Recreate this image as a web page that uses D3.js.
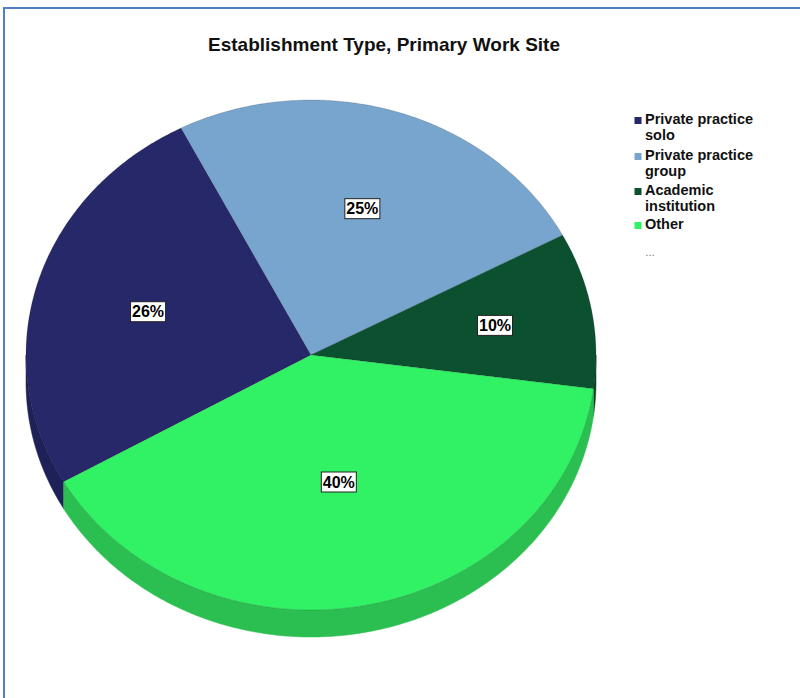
<!DOCTYPE html>
<html>
<head>
<meta charset="utf-8">
<script src="https://cdn.jsdelivr.net/npm/d3@7"></script>
<style>
  html, body { margin: 0; padding: 0; background: #fff; }
  svg { display: block; font-family: Arial, "Liberation Sans", sans-serif; }
</style>
</head>
<body>
<svg id="chart" width="800" height="698"></svg>
<script>
// Establishment type shares (percent of respondents)
const categories = ["Private practice solo", "Private practice group", "Academic institution", "Other"];
const legendLines = [["Private practice", "solo"], ["Private practice", "group"], ["Academic", "institution"], ["Other"]];
const percents = [26, 25, 10, 40];
const topColors = ["#26286a", "#77a5cd", "#0b5130", "#31f264"];
const sideColors = ["#1e2058", "#5f86a8", "#083f24", "#2bbf51"];
const titleText = "Establishment Type, Primary Work Site";

const svg = d3.select("#chart");
const W = 800, H = 698;

// frame
svg.append("rect")
  .attr("x", 4).attr("y", 8).attr("width", W + 10).attr("height", H + 10)
  .attr("fill", "none").attr("stroke", "#4f81c2").attr("stroke-width", 2);

svg.append("text")
  .attr("x", 384).attr("y", 51)
  .attr("text-anchor", "middle")
  .attr("font-size", 19).attr("font-weight", "bold")
  .attr("fill", "#111")
  .text(titleText);

// tilted pie geometry
const cx = 311, cy = 355, rx = 285, ry = 255, depth = 27;
const startDeg = -119.8;
const start = startDeg * Math.PI / 180;

const pie = d3.pie().sort(null).value(d => d)
  .startAngle(start).endAngle(start + 2 * Math.PI);
const arcs = pie(percents);
const total = d3.sum(percents);

const pt = (a, r = 1, dy = 0) => [cx + rx * r * Math.sin(a), cy - ry * r * Math.cos(a) + dy];
const sample = (a0, a1) => {
  const n = Math.max(2, Math.ceil(Math.abs(a1 - a0) / 0.01));
  return d3.range(n + 1).map(i => a0 + (a1 - a0) * i / n);
};
const line = d3.line();

// side walls: visible where the rim faces the viewer (cos(a) < 0)
const g = svg.append("g");
arcs.forEach((d, i) => {
  for (let k = -1; k <= 1; k++) {
    const lo = Math.PI / 2 + 2 * Math.PI * k, hi = 3 * Math.PI / 2 + 2 * Math.PI * k;
    const s = Math.max(d.startAngle, lo), e = Math.min(d.endAngle, hi);
    if (e <= s) continue;
    const topEdge = sample(s, e).map(a => pt(a));
    const botEdge = sample(s, e).reverse().map(a => pt(a, 1, depth));
    g.append("path")
      .attr("d", line(topEdge.concat(botEdge)) + "Z")
      .attr("fill", sideColors[i])
      .attr("stroke", sideColors[i]).attr("stroke-width", 0.5);
  }
});

// top faces
arcs.forEach((d, i) => {
  const pts = [[cx, cy]].concat(sample(d.startAngle, d.endAngle).map(a => pt(a)));
  g.append("path")
    .attr("d", line(pts) + "Z")
    .attr("fill", topColors[i])
    .attr("stroke", "rgba(0,0,0,0.25)").attr("stroke-width", 0.6)
    .attr("stroke-linejoin", "round");
});

// percentage labels, placed at each sector's centroid
const fmt = v => Math.round(v / total * 100) + "%";
arcs.forEach((d, i) => {
  const theta = d.endAngle - d.startAngle;
  const rc = 4 * Math.sin(theta / 2) / (3 * theta);
  const mid = (d.startAngle + d.endAngle) / 2;
  const [x, y] = pt(mid, rc);
  const lg = svg.append("g").attr("transform", `translate(${x},${y})`);
  const t = lg.append("text")
    .attr("text-anchor", "middle").attr("dy", "0.36em")
    .attr("font-size", 16).attr("font-weight", "bold").attr("fill", "#000")
    .text(fmt(d.value));
  const bb = t.node().getBBox();
  lg.insert("rect", "text")
    .attr("x", bb.x - 1.5).attr("y", -10).attr("width", bb.width + 3).attr("height", 20)
    .attr("fill", "#fff").attr("stroke", "#222").attr("stroke-width", 1);
});

// legend
const legend = svg.append("g");
const baselines = [124, 160, 195, 229];
categories.forEach((c, i) => {
  const by = baselines[i];
  legend.append("rect")
    .attr("x", 634.5).attr("y", by - 7).attr("width", 7).attr("height", 7)
    .attr("fill", topColors[i]);
  legendLines[i].forEach((ln, j) => {
    legend.append("text")
      .attr("x", 645).attr("y", by + j * 16)
      .attr("font-size", 14.5).attr("font-weight", "bold").attr("fill", "#111")
      .text(ln);
  });
});
legend.append("text")
  .attr("x", 645).attr("y", 256)
  .attr("font-size", 10).attr("fill", "#666")
  .text("…");
</script>
</body>
</html>
